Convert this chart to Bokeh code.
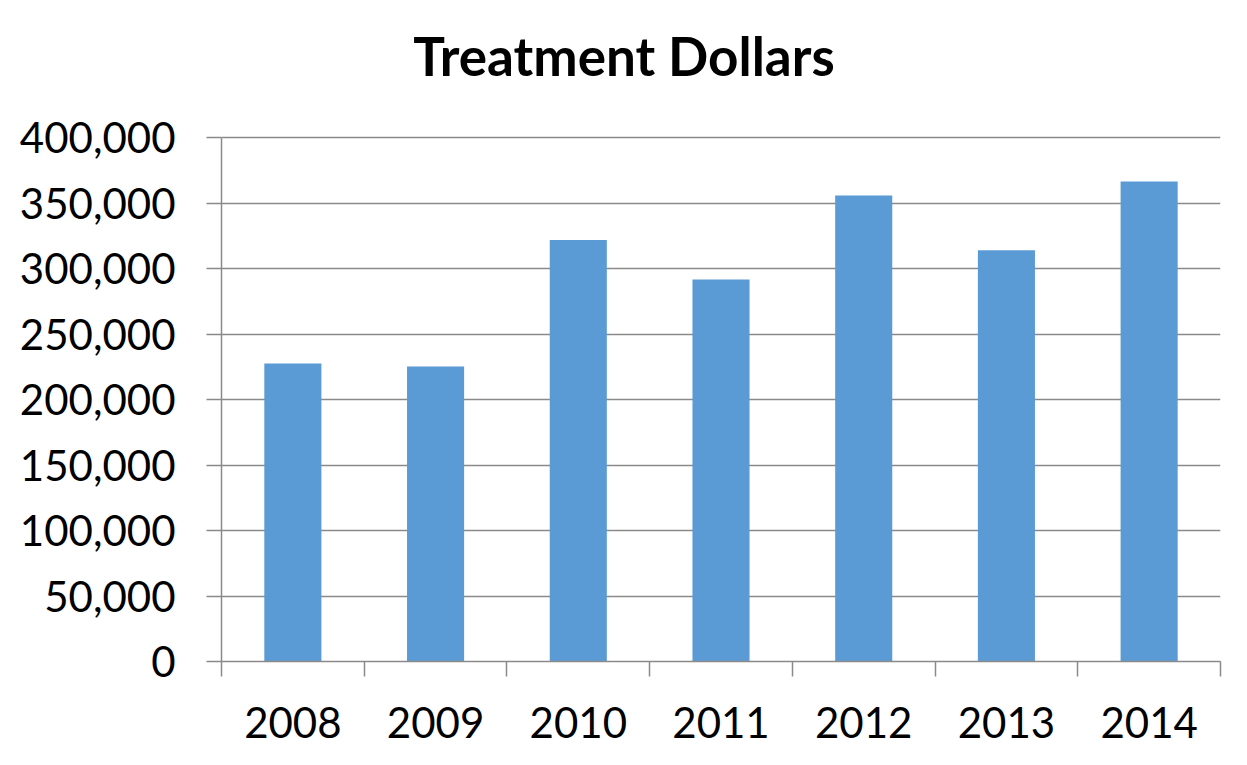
from bokeh.plotting import figure
from bokeh.models import FixedTicker, NumeralTickFormatter, Range1d, Label
from bokeh.embed import file_html
from bokeh.resources import INLINE

years = ["2008", "2009", "2010", "2011", "2012", "2013", "2014"]
dollars = [227500, 225200, 321700, 291600, 355700, 314000, 366400]
y_ticks = [0, 50000, 100000, 150000, 200000, 250000, 300000, 350000, 400000]
title_text = "Treatment Dollars"

n = len(years)
centers = [i + 0.5 for i in range(n)]
y_top = y_ticks[-1]

W, H = 1239, 757
left, right, top, bottom = 221, 19, 10, 96
axis_px = 524  # pixel height of the 0..400,000 axis
frame_h = H - top - bottom
y_end = y_top * frame_h / axis_px

p = figure(width=W, height=H, output_backend="svg", toolbar_location=None,
           x_range=Range1d(0, n), y_range=Range1d(0, y_end),
           min_border_left=left, min_border_right=right, min_border_top=top, min_border_bottom=bottom)

title = Label(x=n / 2, y=y_top, x_offset=-97, y_offset=82,
              text=title_text, text_align="center", text_baseline="alphabetic",
              text_font="Lato", text_font_style="bold", text_font_size="53px",
              text_color="black")
p.add_layout(title)

p.vbar(x=centers, top=dollars, width=0.4, color="#5B9BD5", line_color=None)

p.outline_line_color = None
p.background_fill_color = "white"
p.border_fill_color = "white"

grid_color = "#8a8a8a"
xa = p.xaxis[0]
xa.ticker = FixedTicker(ticks=centers, minor_ticks=list(range(n + 1)))
xa.major_label_overrides = {c: y for c, y in zip(centers, years)}
xa.major_tick_out = 0
xa.major_tick_in = 0
xa.minor_tick_out = 15
xa.minor_tick_in = 0
xa.minor_tick_line_color = grid_color
xa.minor_tick_line_width = 1.5
xa.axis_line_color = grid_color
xa.axis_line_width = 1.5
xa.major_label_text_font = "Lato"
xa.major_label_text_font_size = "42px"
xa.major_label_text_color = "black"
xa.major_label_standoff = 30
p.xgrid.grid_line_color = None

ya = p.yaxis[0]
ya.ticker = FixedTicker(ticks=y_ticks)
ya.bounds = (0, y_top)
ya.formatter = NumeralTickFormatter(format="0,0")
ya.major_tick_out = 15
ya.major_tick_in = 0
ya.minor_tick_line_color = None
ya.major_tick_line_color = grid_color
ya.major_tick_line_width = 1.5
ya.axis_line_color = grid_color
ya.axis_line_width = 1.5
ya.major_label_text_font = "Lato"
ya.major_label_text_font_size = "42px"
ya.major_label_text_color = "black"
ya.major_label_standoff = 31
p.ygrid.grid_line_color = grid_color
p.ygrid.grid_line_width = 1.5

open("out.html", "w").write(file_html(p, INLINE))
